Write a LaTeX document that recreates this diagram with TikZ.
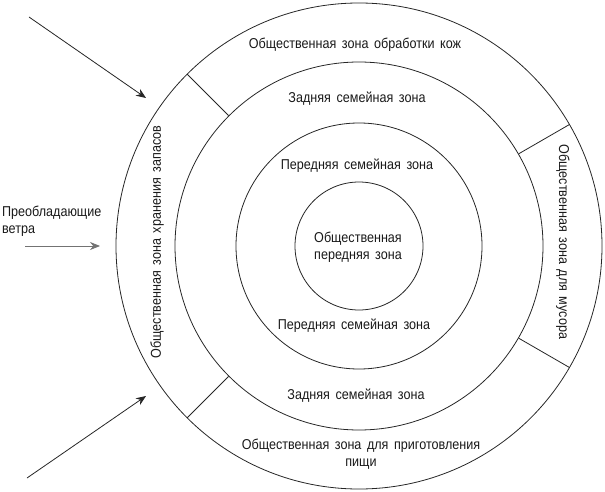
\documentclass[tikz,border=0pt]{standalone}
\usepackage{fontspec}
\setmainfont{Liberation Sans}[FakeStretch=0.88,WordSpace=1.6]
\usetikzlibrary{arrows.meta}
\begin{document}
\begin{tikzpicture}[x=1pt,y=-1pt,
  ring/.style={circle,draw=black!85,line width=0.8pt,inner sep=0pt},
  divider/.style={draw=black!85,line width=0.8pt},
  lbl/.style={font=\fontsize{14.3}{17.5}\selectfont,text=black!90,align=center,inner sep=0pt},
  windarrow/.style={draw=black!85,line width=0.8pt,-{Stealth[length=10pt,width=8pt]}}]
\useasboundingbox (0,0) rectangle (605,492);
\coordinate (C) at (359,246);
\node[ring,minimum size=486pt] (outer) at (C) {};
\node[ring,minimum size=368pt] (second) at (C) {};
\node[ring,minimum size=246pt] (third) at (C) {};
\node[ring,minimum size=128pt] (inner) at (C) {};
\draw[divider] (outer.135) -- (second.135);
\draw[divider] (outer.225) -- (second.225);
\draw[divider] (outer.30) -- (second.30);
\draw[divider] (outer.-30) -- (second.-30);
\node[lbl] (t1) at (355,45) {Общественная зона обработки кож};
\node[lbl] (t2) at (357,99) {Задняя семейная зона};
\node[lbl] (t3) at (357,166) {Передняя семейная зона};
\node[lbl] (t4) at (358,247) {Общественная\\передняя зона};
\node[lbl] (t5) at (354,326) {Передняя семейная зона};
\node[lbl] (t6) at (356,396) {Задняя семейная зона};
\node[lbl] (t7) at (361,454) {Общественная зона для приготовления\\пищи};
\node[lbl,rotate=90] (t8) at (157,242) {Общественная зона хранения запасов};
\node[lbl,rotate=-90] (t9) at (563,242) {Общественная зона для мусора};
\node[lbl,align=left,anchor=west] (t10) at (2,221) {Преобладающие\\ветра};
\coordinate (a1s) at (29,17);
\coordinate (a1e) at (146,98);
\coordinate (a2s) at (27,478);
\coordinate (a2e) at (146,396);
\coordinate (a3s) at (25,246);
\coordinate (a3e) at (100,246);
\draw[windarrow] (a1s) -- (a1e);
\draw[windarrow] (a2s) -- (a2e);
\draw[windarrow,draw=black!55] (a3s) -- (a3e);
\end{tikzpicture}
\end{document}
